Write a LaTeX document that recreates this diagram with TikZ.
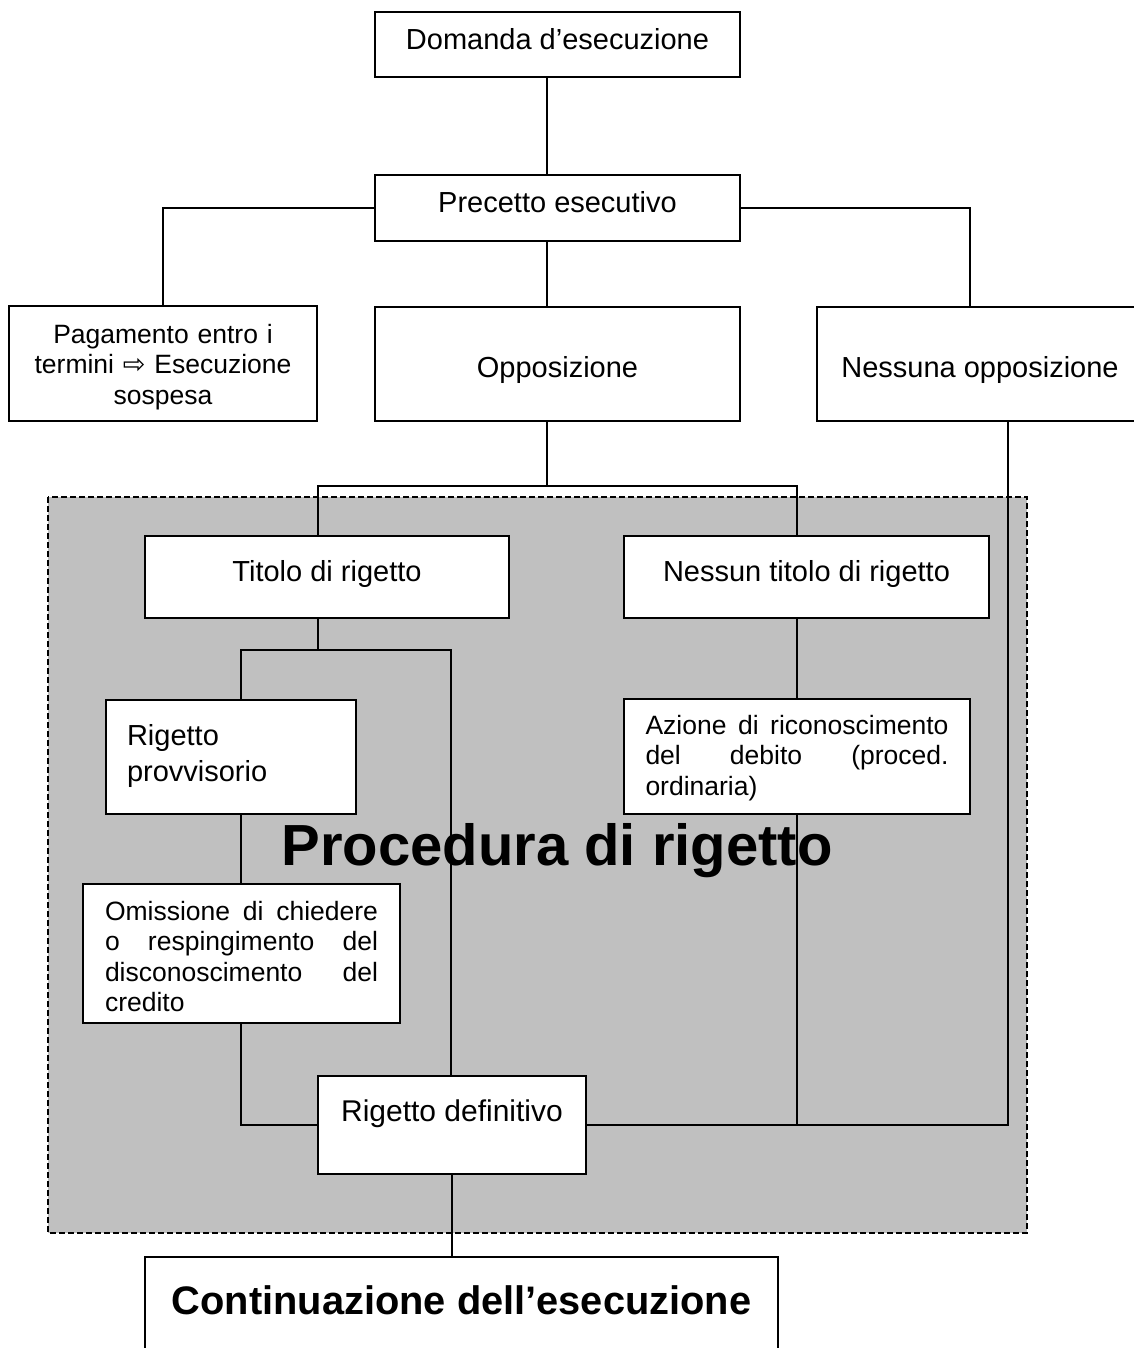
\documentclass[tikz,border=0pt]{standalone}
\usepackage{fontspec}
\setmainfont{Liberation Sans}
\newfontfamily\arrowfont{DejaVu Sans}
\usepackage{tikz}
\usetikzlibrary{calc}
\definecolor{shadegray}{RGB}{192,192,192}
\tikzset{
  box/.style={draw, fill=white, line width=2pt, inner sep=0pt, font=\fontsize{29}{33}\selectfont},
  smallbox/.style={box, font=\fontsize{26.5}{30.5}\selectfont},
  link/.style={line width=1.6pt},
}

\begin{document}
\begin{tikzpicture}[x=1pt,y=-1pt]
\useasboundingbox (0,0) rectangle (1134,1348);
\clip (0,0) rectangle (1134,1348);
% shaded area
\draw[fill=shadegray, line width=1.3pt, dash pattern=on 6pt off 3pt] (48,497) rectangle (1027,1233);
\node[anchor=base, font=\fontsize{58}{60}\selectfont\bfseries] (proc) at (557,865) {Procedura di rigetto};

% boxes
\node[box, minimum width=365, minimum height=65, text height=11pt, text depth=0pt] (dom) at (557.5,44.5) {Domanda d’esecuzione};
\node[box, minimum width=365, minimum height=66, text height=10pt, text depth=0pt] (prec) at (557.5,208) {Precetto esecutivo};
\node[smallbox, minimum width=308, minimum height=115, text width=300, align=center, text height=0pt, text depth=41pt] (pag) at (163,363.5)
  {Pagamento entro i\\ termini {\arrowfont\fontsize{27}{30}\selectfont ⇨} Esecuzione\\ sospesa};
\node[box, minimum width=365, minimum height=114, text height=26pt, text depth=0pt] (opp) at (557.5,364) {Opposizione};
\node[box, minimum width=326, minimum height=114, text height=26pt, text depth=0pt] (ness) at (980,364) {Nessuna opposizione};
\node[box, minimum width=364, minimum height=82, text height=9.4pt, text depth=0pt] (tit) at (327,577) {Titolo di rigetto};
\node[box, minimum width=365, minimum height=82, text height=9.4pt, text depth=0pt] (nt) at (806.5,577) {Nessun titolo di rigetto};
\node[box, minimum width=250, minimum height=114, text width=208, align=left, text height=0pt, text depth=24pt] (rprov) at (231,757)
  {Rigetto\\[3pt] provvisorio};
\node[smallbox, minimum width=346, minimum height=115, text width=303, align=left, text height=0pt, text depth=45pt] (az) at (797,756.5)
  {Azione\hfill di\hfill riconoscimento\\ del\hfill debito\hfill (proced.\\ ordinaria)};
\node[smallbox, minimum width=317, minimum height=139, text width=273, align=left, text height=0pt, text depth=67pt] (omi) at (241.5,953.5)
  {Omissione\hfill di\hfill chiedere\\ o\hfill respingimento\hfill del\\ disconoscimento\hfill del\\ credito};
\node[box, minimum width=268, minimum height=98, text height=0pt, text depth=6.6pt, font=\fontsize{30}{33}\selectfont] (rdef) at (452,1125) {Rigetto definitivo};
\node[box, anchor=north, minimum width=633, text height=57pt, text depth=120pt, font=\fontsize{39.8}{44}\selectfont\bfseries] (cont) at (461.5,1256) {Continuazione dell’esecuzione};

% junctions
\coordinate (split) at (547,486);
\coordinate (tl) at (318,486);
\coordinate (tr) at (797,486);
\coordinate (nr) at (970,208);
\coordinate (sub) at (318,650);
\coordinate (sl) at (241,650);
\coordinate (sr) at (451,650);
\coordinate (mr) at (1008,1125);

% connectors
\draw[link] (dom.south -| split) -- (prec.north -| split);
\draw[link] (prec.west) -| (pag.north);
\draw[link] (prec.east) -- (nr) -- (ness.north -| nr);
\draw[link] (prec.south -| split) -- (opp.north -| split);
\draw[link] (opp.south -| split) -- (split);
\draw[link] (tit.north -| tl) |- (tr) -- (nt.north -| tr);
\draw[link] (tit.south -| sub) -- (sub);
\draw[link] (rprov.north -| sl) |- (sr) -- (rdef.north -| sr);
\draw[link] (rprov.south -| sl) -- (omi.north -| sl);
\draw[link] (omi.south -| sl) |- (rdef.west);
\draw[link] (nt.south -| tr) -- (az.north -| tr);
\draw[link] (az.south -| tr) -- (tr |- rdef.east);
\draw[link] (ness.south -| mr) |- (rdef.east);
\draw[link] (rdef.south) -- (rdef.south |- cont.north);
\end{tikzpicture}
\end{document}
